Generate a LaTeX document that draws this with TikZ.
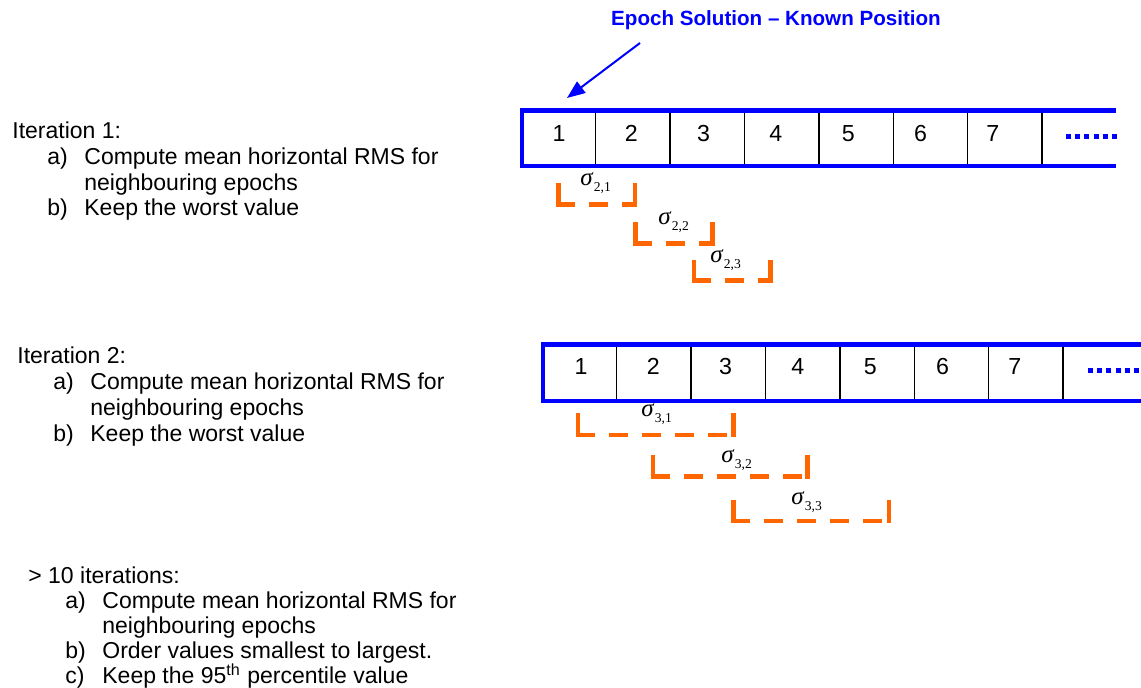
\documentclass[tikz,border=0pt]{standalone}
\usepackage{fontspec}
\setmainfont{Liberation Sans}
\newfontfamily\tnr{Liberation Serif}
\usetikzlibrary{arrows.meta}
\definecolor{bandblue}{RGB}{0,0,255}
\definecolor{brkorange}{RGB}{255,102,0}
\tikzset{
  band/.style={draw=bandblue, line width=2.2pt, line join=miter},
  divider/.style={draw=black, line width=0.7pt},
  dotrow/.style={draw=bandblue, line width=2.5pt, dash pattern=on 2.5pt off 2.1pt},
  num/.style={font=\fontsize{11.6}{13}\selectfont, inner sep=0pt},
  txt/.style={font=\fontsize{11.5}{13}\selectfont, inner sep=0pt, anchor=base west},
  brkside/.style={draw=brkorange, line width=2.3pt, line cap=rect},
  brkbase/.style={draw=brkorange, line width=2.3pt, dash pattern=on 9.5pt off 7pt},
  sig/.style={inner sep=0pt, anchor=base west, font=\tnr\fontsize{12.5}{14}\selectfont},
  titletext/.style={font=\bfseries\fontsize{10.3}{12}\selectfont, text=bandblue, inner sep=0pt},
  pointer/.style={draw=bandblue, line width=1pt, -{Triangle[length=9pt,width=7pt]}},
}
\newcommand\sigmalabel[1]{{\itshape σ}\hspace{0.6pt}\raisebox{-3pt}{\fontsize{6.8}{8}\selectfont #1}}
\newcommand\drawbracket[4]{%
  \draw[brkbase] (#1-2.3,#4) -- (#2+2.3,#4);
  \draw[brkside] (#1,#3) -- (#1,#4);
  \draw[brkside] (#2,#3) -- (#2,#4);
}
\begin{document}
\begin{tikzpicture}[x=0.5pt,y=-0.5pt]
\useasboundingbox (0,0) rectangle (1141,688);

% title and pointer
\node[titletext] (title) at (776,20) {Epoch Solution – Known Position};
\coordinate (arrS) at (640,43);
\coordinate (arrE) at (567,98);
\draw[pointer] (arrS) -- (arrE);

% band 1
\foreach \k in {0,...,6} {
  \draw[divider] (595.7+74.4*\k,110.5) -- (595.7+74.4*\k,166);
}
\draw[band] (1116,110.5) -- (522,110.5) -- (522,166) -- (1116,166);
\foreach \i in {1,...,7} {
  \node[num] (a\i) at (559+72.3*\i-72.3,133.5) {\i};
}
\draw[dotrow] (1066,137) -- (1117,137);

% band 2
\foreach \k in {0,...,6} {
  \draw[divider] (616.6+74.4*\k,344.5) -- (616.6+74.4*\k,401);
}
\draw[band] (1141,344.5) -- (543,344.5) -- (543,401) -- (1141,401);
\foreach \i in {1,...,7} {
  \node[num] (b\i) at (581+72.3*\i-72.3,366.5) {\i};
}
\draw[dotrow] (1088,371) -- (1141,371);

% brackets, band 1
\drawbracket{558.5}{635}{185}{204.3}
\drawbracket{635.3}{712.7}{224.3}{243.3}
\drawbracket{693.8}{770.3}{262.3}{280.7}
\node[sig] (s21) at (580,185.5) {\sigmalabel{2,1}};
\node[sig] (s22) at (658,224.5) {\sigmalabel{2,2}};
\node[sig] (s23) at (710,262.5) {\sigmalabel{2,3}};

% brackets, band 2
\drawbracket{578}{733.5}{415}{435}
\drawbracket{653}{807.5}{457.7}{476.3}
\drawbracket{733.5}{889}{502.7}{521}
\node[sig] (s31) at (641,417) {\sigmalabel{3,1}};
\node[sig] (s32) at (721,463) {\sigmalabel{3,2}};
\node[sig] (s33) at (791,505) {\sigmalabel{3,3}};

% text block 1
\node[txt] (h1) at (12,138.5) {Iteration 1:};
\node[txt] (h1a) at (47,164.4) {a)};
\node[txt] (h1at) at (84,164.4) {Compute mean horizontal RMS for};
\node[txt] (h1at2) at (84,190.2) {neighbouring epochs};
\node[txt] (h1b) at (47,216) {b)};
\node[txt] (h1bt) at (84,216) {Keep the worst value};

% text block 2
\node[txt] (h2) at (17,364) {Iteration 2:};
\node[txt] (h2a) at (53,389.8) {a)};
\node[txt] (h2at) at (90,389.8) {Compute mean horizontal RMS for};
\node[txt] (h2at2) at (90,415.6) {neighbouring epochs};
\node[txt] (h2b) at (53,441.4) {b)};
\node[txt] (h2bt) at (90,441.4) {Keep the worst value};

% text block 3
\node[txt] (h3) at (28,584) {> 10 iterations:};
\node[txt] (h3a) at (65,609) {a)};
\node[txt] (h3at) at (102,609) {Compute mean horizontal RMS for};
\node[txt] (h3at2) at (102,634) {neighbouring epochs};
\node[txt] (h3b) at (65,659) {b)};
\node[txt] (h3bt) at (102,659) {Order values smallest to largest.};
\node[txt] (h3c) at (65,684) {c)};
\node[txt] (h3ct) at (102,684) {Keep the 95\textsuperscript{th} percentile value};
\end{tikzpicture}
\end{document}
